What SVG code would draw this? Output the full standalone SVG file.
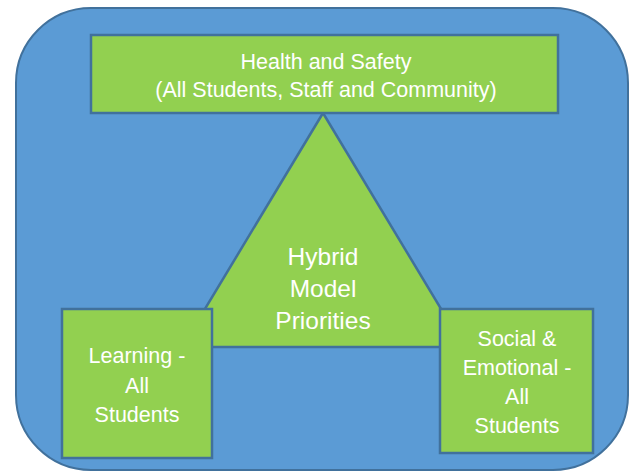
<svg xmlns="http://www.w3.org/2000/svg" width="631" height="471" viewBox="0 0 631 471">
<style>
.frame{fill:#5B9BD5;stroke:#41719C;stroke-width:2}
.shape{fill:#92D050;stroke:#41719C;stroke-width:2.5}
text{font-family:"Liberation Sans",Arial,sans-serif;fill:#ffffff;text-anchor:middle}
.t19{font-size:21.5px}
.t21{font-size:24.5px}
</style>
<rect width="631" height="471" fill="#ffffff"/>
<g id="background">
<rect class="frame" x="16" y="8" width="612" height="462" rx="75" ry="75"/>
</g>
<g id="hybrid">
<polygon class="shape" points="323,113 182,347 464,347"/>
<text class="t21" x="323" y="265">Hybrid</text>
<text class="t21" x="323" y="297">Model</text>
<text class="t21" x="323" y="329">Priorities</text>
</g>
<g id="health">
<rect class="shape" x="91" y="35" width="467" height="78"/>
<text class="t19" x="326" y="69">Health and Safety</text>
<text class="t19" x="326" y="97">(All Students, Staff and Community)</text>
</g>
<g id="learning">
<rect class="shape" x="62" y="309" width="150" height="149"/>
<text class="t19" x="137" y="363">Learning -</text>
<text class="t19" x="137" y="393">All</text>
<text class="t19" x="137" y="422">Students</text>
</g>
<g id="social">
<rect class="shape" x="440" y="309" width="153" height="144"/>
<text class="t19" x="517" y="346">Social &amp;</text>
<text class="t19" x="517" y="375">Emotional -</text>
<text class="t19" x="517" y="404">All</text>
<text class="t19" x="517" y="433">Students</text>
</g>
</svg>
